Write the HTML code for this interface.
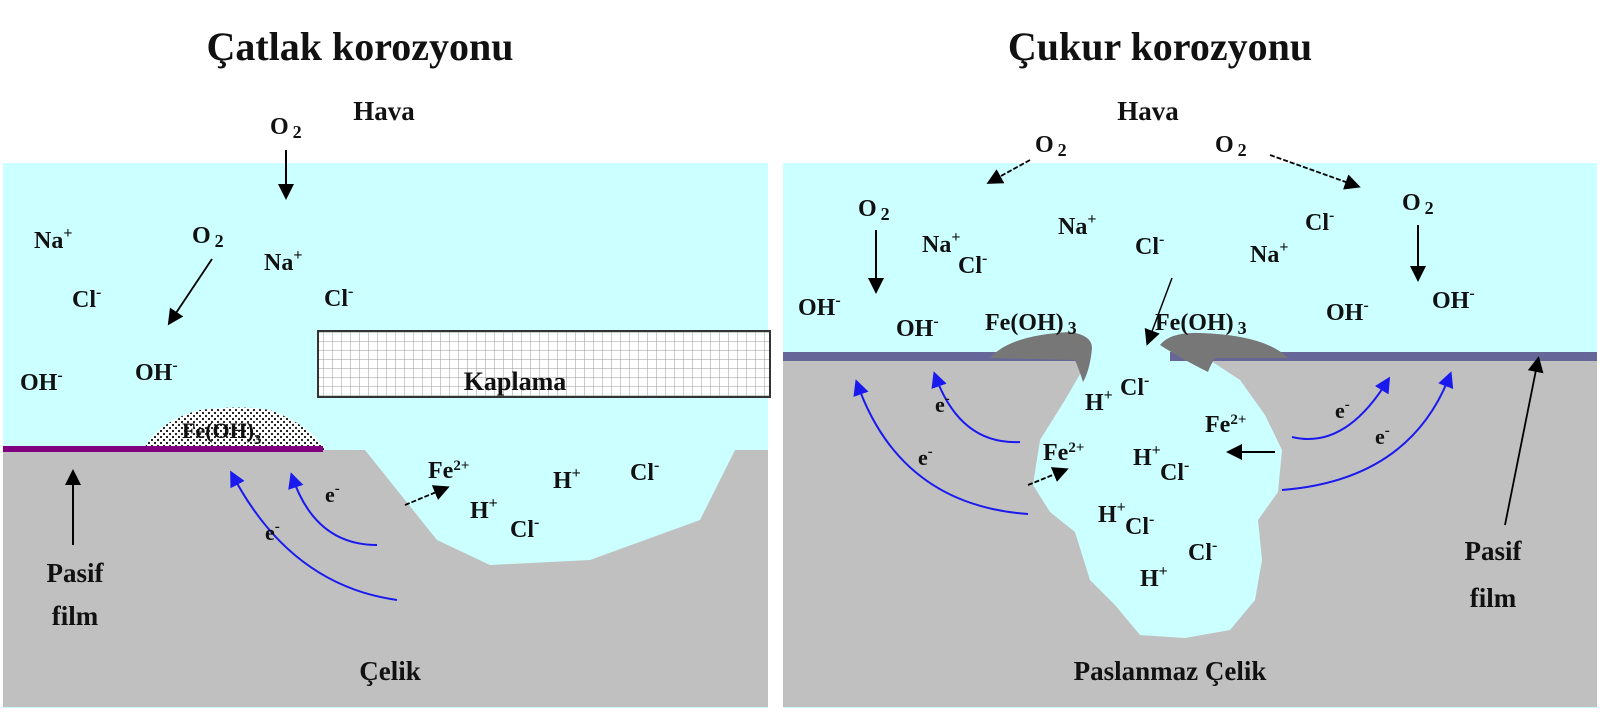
<!DOCTYPE html>
<html><head><meta charset="utf-8"><style>
html,body{margin:0;padding:0;background:#fff;}
svg{display:block;}
text{font-family:"Liberation Serif",serif;font-weight:bold;fill:#111;}
</style></head><body>
<svg width="1600" height="719" viewBox="0 0 1600 719" xmlns="http://www.w3.org/2000/svg">
<defs>
<pattern id="grid" width="9" height="9" patternUnits="userSpaceOnUse">
<rect width="9" height="9" fill="#fff"/>
<path d="M9 0V9M0 9H9" stroke="#999" stroke-width="1"/>
</pattern>
<pattern id="dots" width="6" height="6" patternUnits="userSpaceOnUse">
<rect width="6" height="6" fill="#fff"/>
<circle cx="2" cy="2" r="1.1" fill="#111"/><circle cx="5" cy="5" r="1.1" fill="#111"/>
</pattern>
<marker id="ab" markerWidth="10" markerHeight="10" refX="8" refY="5" orient="auto" markerUnits="userSpaceOnUse"><path d="M0 0L10 5L0 10z" fill="#000"/></marker>
<marker id="abl" markerWidth="16" markerHeight="16" refX="12" refY="8" orient="auto" markerUnits="userSpaceOnUse"><path d="M0 0L16 8L0 16z" fill="#000"/></marker>
<marker id="bl" markerWidth="16" markerHeight="16" refX="12" refY="8" orient="auto" markerUnits="userSpaceOnUse"><path d="M0 0L16 8L0 16z" fill="#1a1aee"/></marker>
</defs>

<!-- LEFT PANEL -->
<text x="360" y="60" font-size="40" text-anchor="middle">Çatlak korozyonu</text>
<text x="384" y="120" font-size="27" text-anchor="middle">Hava</text>
<rect x="3" y="163" width="765" height="545" fill="#ccffff"/>
<path d="M3 450H365L437 540L490 565L590 560L700 520L735 450H768V707H3Z" fill="#c0c0c0"/>
<rect x="318" y="331" width="452" height="66" fill="url(#grid)" stroke="#333" stroke-width="2"/>
<text x="515" y="390" font-size="26" text-anchor="middle">Kaplama</text>
<path d="M143 450Q160 420 200 410Q240 405 270 410Q310 425 325 450Z" fill="url(#dots)"/>
<text x="182" y="438" font-size="22" fill="#333">Fe(OH)<tspan font-size="14" dy="6">3</tspan></text>
<rect x="3" y="446" width="320" height="6" fill="#800080"/>
<text x="270" y="134" font-size="24">O<tspan font-size="18" dx="4" dy="4">2</tspan></text>
<line x1="286" y1="150" x2="286" y2="196" stroke="#000" stroke-width="2" marker-end="url(#abl)"/>
<text x="34" y="248" font-size="24">Na<tspan font-size="16" dy="-10">+</tspan></text>
<text x="72" y="307" font-size="24">Cl<tspan font-size="16" dy="-10">-</tspan></text>
<text x="192" y="243" font-size="24">O<tspan font-size="18" dx="4" dy="4">2</tspan></text>
<line x1="212" y1="259" x2="170" y2="322" stroke="#000" stroke-width="1.8" marker-end="url(#abl)"/>
<text x="264" y="270" font-size="24">Na<tspan font-size="16" dy="-10">+</tspan></text>
<text x="324" y="306" font-size="24">Cl<tspan font-size="16" dy="-10">-</tspan></text>
<text x="20" y="390" font-size="24">OH<tspan font-size="16" dy="-10">-</tspan></text>
<text x="135" y="380" font-size="24">OH<tspan font-size="16" dy="-10">-</tspan></text>
<line x1="73" y1="545" x2="73" y2="473" stroke="#000" stroke-width="2" marker-end="url(#abl)"/>
<text x="75" y="582" font-size="27" text-anchor="middle">Pasif</text>
<text x="75" y="625" font-size="27" text-anchor="middle">film</text>
<text x="390" y="680" font-size="27" text-anchor="middle">Çelik</text>
<path d="M397 600Q290 585 232 474" fill="none" stroke="#1a1aee" stroke-width="2" marker-end="url(#bl)"/>
<path d="M377 545Q315 545 292 476" fill="none" stroke="#1a1aee" stroke-width="2" marker-end="url(#bl)"/>
<text x="325" y="502" font-size="22">e<tspan font-size="15" dy="-9">-</tspan></text>
<text x="265" y="540" font-size="22">e<tspan font-size="15" dy="-9">-</tspan></text>
<line x1="405" y1="505" x2="446" y2="488" stroke="#000" stroke-width="1.8" stroke-dasharray="5,2" marker-end="url(#abl)"/>
<text x="428" y="478" font-size="24">Fe<tspan font-size="15" dy="-8">2+</tspan></text>
<text x="553" y="488" font-size="24">H<tspan font-size="16" dy="-10">+</tspan></text>
<text x="630" y="480" font-size="24">Cl<tspan font-size="16" dy="-10">-</tspan></text>
<text x="470" y="518" font-size="24">H<tspan font-size="16" dy="-10">+</tspan></text>
<text x="510" y="537" font-size="24">Cl<tspan font-size="16" dy="-10">-</tspan></text>

<!-- RIGHT PANEL -->
<text x="1160" y="60" font-size="40" text-anchor="middle">Çukur korozyonu</text>
<text x="1148" y="120" font-size="27" text-anchor="middle">Hava</text>
<rect x="783" y="163" width="814" height="545" fill="#ccffff"/>
<rect x="783" y="357" width="814" height="350" fill="#c0c0c0"/>
<path d="M1090 357L1065 400L1040 440L1033 485L1050 512L1075 532L1090 580L1115 605L1140 635L1185 638L1230 630L1255 600L1262 560L1258 520L1278 492L1282 450L1265 415L1240 380L1205 357Z" fill="#ccffff"/>
<rect x="783" y="352" width="814" height="9" fill="#666699"/>
<rect x="1090" y="350" width="80" height="14" fill="#ccffff"/>
<path d="M990 358Q1010 335 1070 332Q1092 335 1092 348Q1090 370 1083 382Q1080 372 1075 360Z" fill="#777"/>
<path d="M1160 345Q1170 332 1200 333Q1265 335 1288 358L1215 358Q1210 366 1208 372Q1180 358 1160 345Z" fill="#777"/>
<text x="1035" y="152" font-size="24">O<tspan font-size="18" dx="4" dy="4">2</tspan></text>
<line x1="1030" y1="160" x2="990" y2="182" stroke="#000" stroke-width="1.8" stroke-dasharray="5,2" marker-end="url(#abl)"/>
<text x="1215" y="152" font-size="24">O<tspan font-size="18" dx="4" dy="4">2</tspan></text>
<line x1="1270" y1="155" x2="1357" y2="186" stroke="#000" stroke-width="1.8" stroke-dasharray="5,2" marker-end="url(#abl)"/>
<text x="858" y="216" font-size="24">O<tspan font-size="18" dx="4" dy="4">2</tspan></text>
<line x1="876" y1="230" x2="876" y2="290" stroke="#000" stroke-width="2" marker-end="url(#abl)"/>
<text x="1402" y="210" font-size="24">O<tspan font-size="18" dx="4" dy="4">2</tspan></text>
<line x1="1418" y1="225" x2="1418" y2="278" stroke="#000" stroke-width="2" marker-end="url(#abl)"/>
<text x="922" y="252" font-size="24">Na<tspan font-size="16" dy="-10">+</tspan></text>
<text x="958" y="273" font-size="24">Cl<tspan font-size="16" dy="-10">-</tspan></text>
<text x="1058" y="234" font-size="24">Na<tspan font-size="16" dy="-10">+</tspan></text>
<text x="1135" y="254" font-size="24">Cl<tspan font-size="16" dy="-10">-</tspan></text>
<text x="1250" y="262" font-size="24">Na<tspan font-size="16" dy="-10">+</tspan></text>
<text x="1305" y="230" font-size="24">Cl<tspan font-size="16" dy="-10">-</tspan></text>
<line x1="1172" y1="278" x2="1148" y2="342" stroke="#000" stroke-width="1.5" marker-end="url(#abl)"/>
<text x="798" y="315" font-size="24">OH<tspan font-size="16" dy="-10">-</tspan></text>
<text x="896" y="336" font-size="24">OH<tspan font-size="16" dy="-10">-</tspan></text>
<text x="985" y="330" font-size="24">Fe(OH)<tspan font-size="18" dx="4" dy="4">3</tspan></text>
<text x="1155" y="330" font-size="24">Fe(OH)<tspan font-size="18" dx="4" dy="4">3</tspan></text>
<text x="1326" y="320" font-size="24">OH<tspan font-size="16" dy="-10">-</tspan></text>
<text x="1432" y="308" font-size="24">OH<tspan font-size="16" dy="-10">-</tspan></text>
<text x="1085" y="410" font-size="24">H<tspan font-size="16" dy="-10">+</tspan></text>
<text x="1120" y="395" font-size="24">Cl<tspan font-size="16" dy="-10">-</tspan></text>
<text x="1043" y="460" font-size="24">Fe<tspan font-size="15" dy="-8">2+</tspan></text>
<line x1="1028" y1="485" x2="1065" y2="470" stroke="#000" stroke-width="1.8" stroke-dasharray="5,2" marker-end="url(#abl)"/>
<text x="1133" y="465" font-size="24">H<tspan font-size="16" dy="-10">+</tspan></text>
<text x="1160" y="480" font-size="24">Cl<tspan font-size="16" dy="-10">-</tspan></text>
<text x="1205" y="432" font-size="24">Fe<tspan font-size="15" dy="-8">2+</tspan></text>
<line x1="1275" y1="452" x2="1230" y2="452" stroke="#000" stroke-width="2" marker-end="url(#abl)"/>
<text x="1098" y="522" font-size="24">H<tspan font-size="16" dy="-10">+</tspan></text>
<text x="1125" y="534" font-size="24">Cl<tspan font-size="16" dy="-10">-</tspan></text>
<text x="1140" y="586" font-size="24">H<tspan font-size="16" dy="-10">+</tspan></text>
<text x="1188" y="560" font-size="24">Cl<tspan font-size="16" dy="-10">-</tspan></text>
<path d="M1028 514Q900 505 857 383" fill="none" stroke="#1a1aee" stroke-width="2" marker-end="url(#bl)"/>
<path d="M1020 442Q960 445 935 375" fill="none" stroke="#1a1aee" stroke-width="2" marker-end="url(#bl)"/>
<path d="M1292 437Q1345 450 1388 380" fill="none" stroke="#1a1aee" stroke-width="2" marker-end="url(#bl)"/>
<path d="M1282 490Q1410 480 1450 375" fill="none" stroke="#1a1aee" stroke-width="2" marker-end="url(#bl)"/>
<text x="935" y="412" font-size="22">e<tspan font-size="15" dy="-9">-</tspan></text>
<text x="918" y="465" font-size="22">e<tspan font-size="15" dy="-9">-</tspan></text>
<text x="1335" y="418" font-size="22">e<tspan font-size="15" dy="-9">-</tspan></text>
<text x="1375" y="444" font-size="22">e<tspan font-size="15" dy="-9">-</tspan></text>
<line x1="1505" y1="525" x2="1538" y2="360" stroke="#000" stroke-width="1.8" marker-end="url(#abl)"/>
<text x="1493" y="560" font-size="27" text-anchor="middle">Pasif</text>
<text x="1493" y="607" font-size="27" text-anchor="middle">film</text>
<text x="1170" y="680" font-size="27" text-anchor="middle">Paslanmaz Çelik</text>
</svg>
</body></html>
